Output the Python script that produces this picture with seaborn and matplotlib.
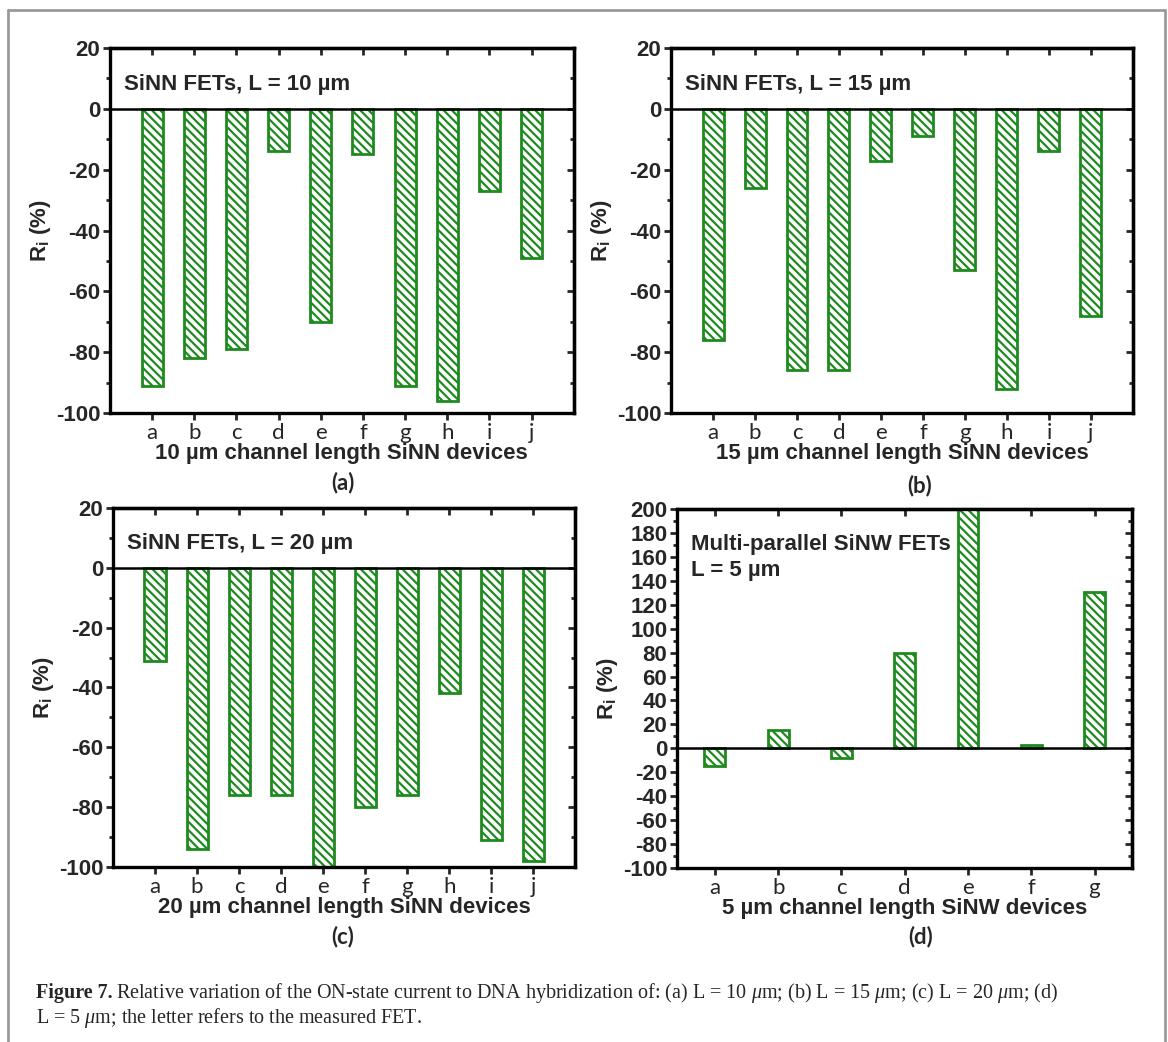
import numpy as np
import matplotlib
matplotlib.use('Agg')
import matplotlib.pyplot as plt
from matplotlib.lines import Line2D
from matplotlib.ticker import MultipleLocator
import seaborn as sns

# data (R_i in %)
devices_10 = list('abcdefghij')
ri_10um = [-91, -82, -79, -14, -70, -15, -91, -96, -27, -49]
devices_15 = list('abcdefghij')
ri_15um = [-76, -26, -86, -86, -17, -9, -53, -92, -14, -68]
devices_20 = list('abcdefghij')
ri_20um = [-31, -94, -76, -76, -100, -80, -76, -42, -91, -98]
devices_5 = list('abcdefg')
ri_5um = [-15, 15, -8, 80, 200, 3, 131]

GREEN = '#1f8a1f'

sns.set_style('ticks')
plt.rcParams['font.family'] = ['Liberation Sans', 'DejaVu Sans']
plt.rcParams['axes.unicode_minus'] = False
plt.rcParams['mathtext.fontset'] = 'custom'
plt.rcParams['mathtext.it'] = 'Liberation Serif:italic'
plt.rcParams['hatch.linewidth'] = 1.6

fig = plt.figure(figsize=(11.68, 10.42), dpi=100)


def panel(rect, devices, values, width, ylim, major, note, xlabel, xpad):
    ax = fig.add_axes(rect)
    sns.barplot(x=devices, y=values, ax=ax, color='white', saturation=1,
                width=width, edgecolor=GREEN, linewidth=2,
                hatch='\\\\\\\\', errorbar=None)
    ax.axhline(0, color='black', lw=1.8, zorder=3)
    n = len(devices)
    ax.set_xlim(-xpad, n - 1 + xpad)
    ax.set_ylim(*ylim)
    ax.yaxis.set_major_locator(MultipleLocator(major))
    ax.yaxis.set_minor_locator(MultipleLocator(10))
    for s in ax.spines.values():
        s.set_linewidth(2.4)
        s.set_color('black')
    ax.tick_params(axis='both', which='major', direction='out', length=5,
                   width=2, labelsize=16, pad=2)
    ax.tick_params(axis='y', which='minor', direction='out', length=3, width=2)
    for lbl in ax.get_yticklabels():
        lbl.set_fontweight('bold')
    for lbl in ax.get_xticklabels():
        lbl.set_fontfamily('Lato')
        lbl.set_fontsize(16)
    # ticks pointing inward on top and right
    top = ax.secondary_xaxis('top')
    top.set_xticks(range(n))
    top.tick_params(direction='in', length=5, width=2, labeltop=False)
    right = ax.secondary_yaxis('right')
    right.yaxis.set_major_locator(MultipleLocator(major))
    right.yaxis.set_minor_locator(MultipleLocator(10))
    right.tick_params(which='major', direction='in', length=5, width=2,
                      labelright=False)
    right.tick_params(which='minor', direction='in', length=3, width=2)
    for sec in (top, right):
        for s in sec.spines.values():
            s.set_linewidth(2.4)
    ax.set_ylabel(r'R$_\mathregular{i}$ (%)', fontsize=16, fontweight='bold',
                  labelpad=2)
    ax.set_xlabel(xlabel, fontsize=16, fontweight='bold', labelpad=0)
    ax.text(0.03, 0.93, note, transform=ax.transAxes, fontsize=16,
            fontweight='bold', va='top', linespacing=1.3)
    return ax


panel([0.0942, 0.6036, 0.397, 0.3503], devices_10, ri_10um, 0.5, (-100, 20), 20,
      'SiNN FETs, L = 10 µm', '10 µm channel length SiNN devices', 1.0)
panel([0.5745, 0.6036, 0.3955, 0.3503], devices_15, ri_15um, 0.5, (-100, 20), 20,
      'SiNN FETs, L = 15 µm', '15 µm channel length SiNN devices', 1.0)
panel([0.0967, 0.168, 0.396, 0.3445], devices_20, ri_20um, 0.5, (-100, 20), 20,
      'SiNN FETs, L = 20 µm', '20 µm channel length SiNN devices', 1.0)
panel([0.5796, 0.167, 0.390, 0.3445], devices_5, ri_5um, 0.33, (-100, 200), 20,
      'Multi-parallel SiNW FETs\nL = 5 µm', '5 µm channel length SiNW devices', 0.6)

for x, y, s in [(0.2937, 0.5365, '(a)'), (0.787, 0.5345, '(b)'),
                (0.2937, 0.1008, '(c)'), (0.788, 0.1008, '(d)')]:
    fig.text(x, y, s, ha='center', va='center', fontsize=16, family='Lato',
             fontweight='bold')

# caption
cap = fig.text(0.0308, 0.0470, 'Figure 7.', fontsize=14.5, fontweight='bold',
               family='Liberation Serif', va='center')
fig.canvas.draw()
bb = cap.get_window_extent().transformed(fig.transFigure.inverted())
fig.text(bb.x1 + 0.003, 0.0470,
         r'Relative variation of the ON-state current to DNA hybridization of: '
         r'(a) L = 10 $\mu$m; (b) L = 15 $\mu$m; (c) L = 20 $\mu$m; (d)',
         fontsize=14.5, family='Liberation Serif', va='center')
fig.text(0.0308, 0.0235, r'L = 5 $\mu$m; the letter refers to the measured FET.',
         fontsize=14.5, family='Liberation Serif', va='center')

# grey frame around the figure
frame = dict(color='#9a9a9a', lw=2, transform=fig.transFigure)
fig.add_artist(Line2D([0.0069, 0.0069], [0.0, 0.9904], **frame))
fig.add_artist(Line2D([0.9974, 0.9974], [0.0, 0.9904], **frame))
fig.add_artist(Line2D([0.0069, 0.9974], [0.9904, 0.9904], **frame))

fig.savefig('out.png', dpi=100, facecolor='white')
